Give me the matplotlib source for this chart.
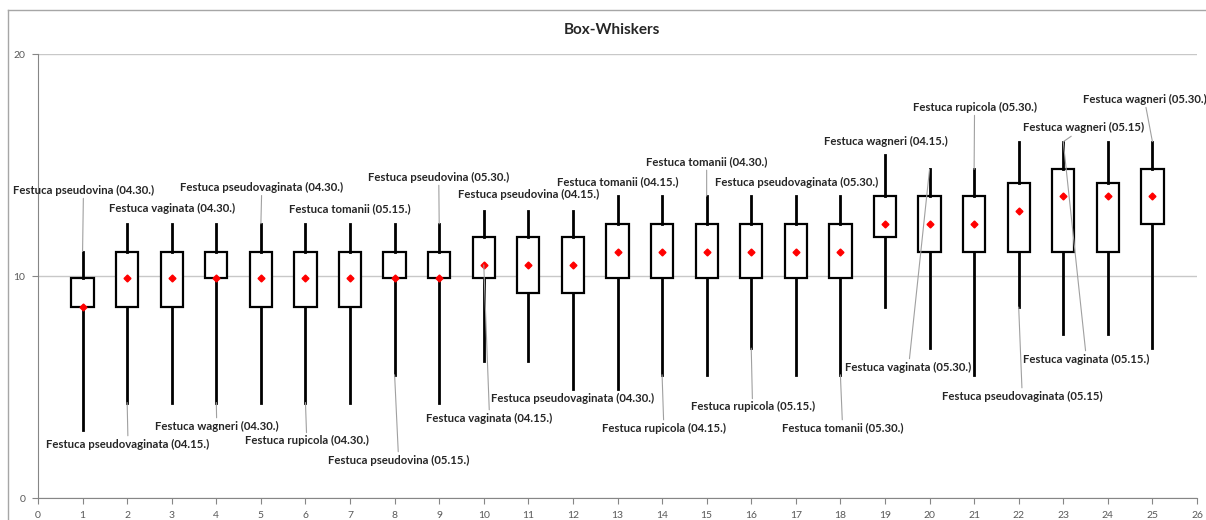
import matplotlib
matplotlib.use('Agg')
import matplotlib.pyplot as plt
from matplotlib.lines import Line2D

# box data (one entry per box, positions 1..25)
positions = list(range(1, 26))
whislo = [3.05, 4.3, 4.3, 4.3, 4.3, 4.3, 4.3, 5.55, 4.3, 6.15, 6.15, 4.9, 4.9,
          5.55, 5.55, 6.75, 5.55, 5.55, 8.6, 6.75, 5.55, 8.6, 7.4, 7.4, 6.75]
q1 = [8.6, 8.6, 8.6, 9.9, 8.6, 8.6, 8.6, 9.9, 9.9, 9.9, 9.25, 9.25, 9.9,
      9.9, 9.9, 9.9, 9.9, 9.9, 11.75, 11.1, 11.1, 11.1, 11.1, 11.1, 12.35]
med = [8.6, 9.9, 9.9, 9.9, 9.9, 9.9, 9.9, 9.9, 9.9, 10.5, 10.5, 10.5, 11.1,
       11.1, 11.1, 11.1, 11.1, 11.1, 12.35, 12.35, 12.35, 12.95, 13.6, 13.6, 13.6]
q3 = [9.9, 11.1, 11.1, 11.1, 11.1, 11.1, 11.1, 11.1, 11.1, 11.75, 11.75, 11.75, 12.35,
      12.35, 12.35, 12.35, 12.35, 12.35, 13.6, 13.6, 13.6, 14.2, 14.8, 14.2, 14.8]
whishi = [11.1, 12.35, 12.35, 12.35, 12.35, 12.35, 12.35, 12.35, 12.35, 12.95, 12.95, 12.95, 13.6,
          13.6, 13.6, 13.6, 13.6, 13.6, 15.45, 14.8, 14.8, 16.05, 16.05, 16.05, 16.05]

labels = ['Festuca pseudovina (04.30.)', 'Festuca pseudovaginata (04.15.)',
          'Festuca vaginata (04.30.)', 'Festuca wagneri (04.30.)',
          'Festuca pseudovaginata (04.30.)', 'Festuca rupicola (04.30.)',
          'Festuca tomanii (05.15.)', 'Festuca pseudovina (05.15.)',
          'Festuca pseudovina (05.30.)', 'Festuca vaginata (04.15.)',
          'Festuca pseudovina (04.15.)', 'Festuca pseudovaginata (04.30.)',
          'Festuca tomanii (04.15.)', 'Festuca rupicola (04.15.)',
          'Festuca tomanii (04.30.)', 'Festuca rupicola (05.15.)',
          'Festuca pseudovaginata (05.30.)', 'Festuca tomanii (05.30.)',
          'Festuca wagneri (04.15.)', 'Festuca vaginata (05.30.)',
          'Festuca rupicola (05.30.)', 'Festuca pseudovaginata (05.15)',
          'Festuca wagneri (05.15)', 'Festuca vaginata (05.15.)',
          'Festuca wagneri (05.30.)']

# where each label sits, and which box/stat its leader line points at
label_pos = [(1.02, 13.87), (2.02, 2.43), (3.01, 13.02), (4.01, 3.24), (5.02, 14.0),
             (6.03, 2.57), (7.0, 13.02), (8.09, 1.71), (8.99, 14.46), (10.13, 3.6),
             (11.01, 13.65), (12.0, 4.5), (13.0, 14.23), (14.04, 3.15), (15.0, 15.14),
             (16.03, 4.1), (17.02, 14.23), (18.05, 3.15), (19.01, 16.04), (19.53, 5.9),
             (21.01, 17.61), (22.08, 4.59), (23.45, 16.67), (23.52, 6.26), (24.82, 17.97)]
leader = [(1, 'hi'), (2, 'lo'), None, (4, 'lo'), (5, 'hi'), (6, 'lo'), None, (8, 'lo'),
          (9, 'hi'), (10, 'med'), None, None, None, (14, 'lo'), (15, 'hi'), (16, 'lo'),
          None, (18, 'lo'), None, (20, 'hi'), (21, 'hi'), (22, 'lo'), (23, 'hi'),
          (23, 'hi'), (25, 'hi')]

plt.rcParams['font.family'] = ['Lato', 'DejaVu Sans']

fig = plt.figure(figsize=(12.06, 5.2), dpi=100)
ax = fig.add_axes([38/1206, 1-498/520, (1197-38)/1206, 444/520])

stats = []
for i in range(len(positions)):
    stats.append(dict(whislo=whislo[i], q1=q1[i], med=med[i], q3=q3[i],
                      whishi=whishi[i], mean=med[i], fliers=[]))

ax.bxp(stats, positions=positions, widths=0.5, showmeans=True, showcaps=False,
       showfliers=False, patch_artist=True,
       boxprops=dict(facecolor='white', edgecolor='black', linewidth=1.6),
       whiskerprops=dict(color='black', linewidth=2),
       medianprops=dict(linewidth=0),
       meanprops=dict(marker='D', markerfacecolor='red', markeredgecolor='red',
                      markersize=3.5))

ax.set_xlim(0, 26)
ax.set_ylim(0, 20)
ax.set_xticks(range(27))
ax.set_xticklabels([str(i) for i in range(27)])
ax.set_yticks([0, 10, 20])
ax.set_axisbelow(True)
ax.grid(axis='y', color='#c8c8c8', linewidth=1)
ax.tick_params(direction='out', length=4, color='#868686', labelsize=7.5,
               labelcolor='#595959', pad=5)
for s in ['top', 'right']:
    ax.spines[s].set_visible(False)
for s in ['left', 'bottom']:
    ax.spines[s].set_color('#868686')

lookup = {'hi': whishi, 'lo': whislo, 'med': med}
for i, lab in enumerate(labels):
    tx, ty = label_pos[i]
    if leader[i] is None:
        ax.text(tx, ty, lab, ha='center', va='center', fontsize=8.2,
                fontweight='bold', color='#262626')
    else:
        b, key = leader[i]
        ax.annotate(lab, xy=(b, lookup[key][b-1]), xytext=(tx, ty),
                    ha='center', va='center', fontsize=8.2, fontweight='bold',
                    color='#262626',
                    arrowprops=dict(arrowstyle='-', color='#a0a0a0', lw=0.8,
                                    shrinkA=0, shrinkB=0))

fig.text(612/1206, 1-30/520, 'Box-Whiskers', ha='center', va='center',
         fontsize=11, fontweight='bold', color='#262626')

# chart-area border (top and left edges visible)
fig.add_artist(Line2D([8/1206, 1], [1-10/520, 1-10/520], transform=fig.transFigure,
                      color='#a6a6a6', lw=1))
fig.add_artist(Line2D([8/1206, 8/1206], [0, 1-10/520], transform=fig.transFigure,
                      color='#a6a6a6', lw=1))

fig.savefig('out.png', dpi=100)
